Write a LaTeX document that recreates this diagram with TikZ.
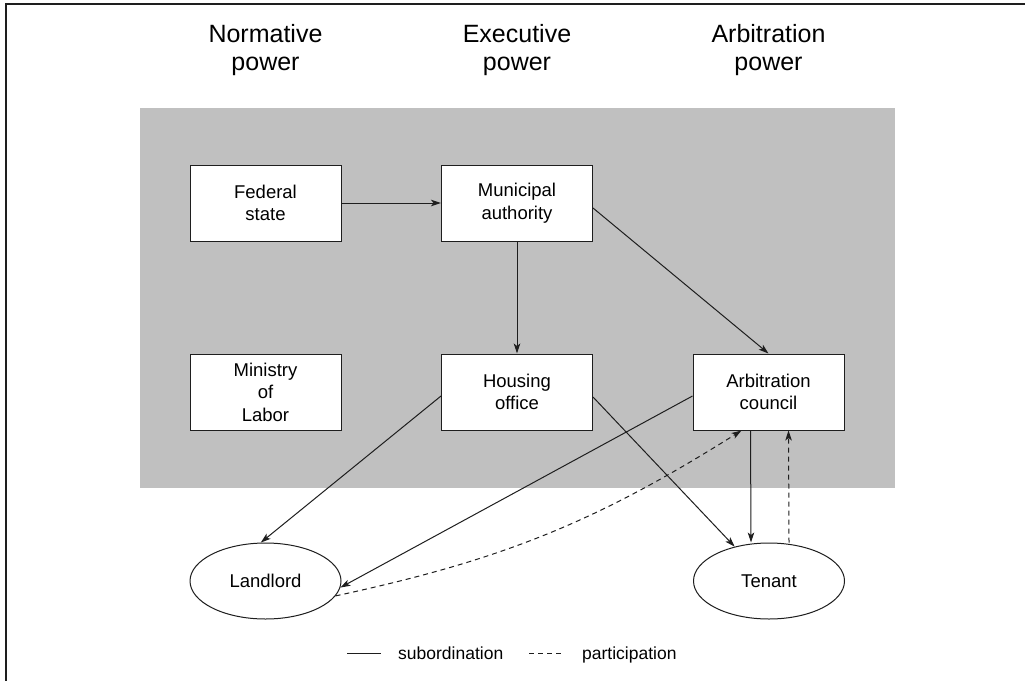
\documentclass[tikz,border=0pt]{standalone}
\usepackage{fontspec}
\setmainfont{Liberation Sans}
\usetikzlibrary{arrows.meta,shapes.geometric,calc}
\definecolor{panel}{RGB}{192,192,192}
\definecolor{ink}{RGB}{30,30,30}
\begin{document}
\begin{tikzpicture}[x=1pt,y=-1pt,
  box/.style={draw=ink, fill=white, line width=1pt, minimum width=151pt, minimum height=76pt, inner sep=0pt, align=center, font=\fontsize{18.5}{22.5}\selectfont},
  oval/.style={ellipse, draw=ink, fill=white, line width=1pt, minimum width=151pt, minimum height=76pt, inner sep=0pt, font=\fontsize{18.5}{22.5}\selectfont},
  head/.style={align=center, inner sep=0pt, font=\fontsize{25}{28}\selectfont},
  legtext/.style={inner sep=0pt, font=\fontsize{17.5}{20}\selectfont},
  sub/.style={draw=ink, line width=1pt, -{Stealth[length=10pt,width=6.5pt,inset=2.5pt]}},
  part/.style={sub, dash pattern=on 5pt off 4pt}
]
\useasboundingbox (0,0) rectangle (1025,680);
\clip (0,0) rectangle (1025,680);
\fill[white] (0,0) rectangle (1025,680);
\draw[line width=2pt, ink] (6,4) rectangle (1060,720);
\fill[panel] (140,108) rectangle (895,488);

% headers
\node[head] (hnorm) at (265.5,50) {Normative\\power};
\node[head] (hexec) at (517,50) {Executive\\power};
\node[head] (harb) at (768.5,50) {Arbitration\\power};

% boxes
\node[box] (fed) at (265.5,203) {Federal\\state};
\node[box] (mun) at (517,203) {Municipal\\authority};
\node[box] (min) at (265.5,392) {Ministry\\of\\Labor};
\node[box] (hou) at (517,392) {Housing\\office};
\node[box] (arb) at (768.5,392) {Arbitration\\council};
\node[oval] (land) at (265.5,581) {Landlord};
\node[oval] (ten) at (769,581) {Tenant};

% subordination
\draw[sub] (fed.east) -- (mun.west);
\draw[sub] (mun.south) -- (hou.north);
\draw[sub] ([yshift=-5pt]mun.east) -- (arb.north);
\draw[sub] ([yshift=-4pt]hou.west) -- (land.97);
\draw[sub] ([yshift=-5pt]hou.east) -- (ten.135);
\draw[sub] ([yshift=-4pt]arb.west) -- (land.-5);
\draw[sub] ([xshift=-18pt]arb.south) -- ([xshift=-18pt]ten.north);

% participation
\draw[part] ([xshift=20pt]ten.north) -- ([xshift=20pt]arb.south);
\draw[part] (land.-12) to[bend right=10] ([xshift=-27pt]arb.south);

% legend
\coordinate (ls1) at (347,653);
\coordinate (ls2) at (381,653);
\coordinate (lp1) at (529,653);
\coordinate (lp2) at (562,653);
\draw[ink, line width=1pt] (ls1) -- (ls2);
\draw[ink, line width=1pt, dash pattern=on 5pt off 4pt] (lp1) -- (lp2);
\node[legtext, anchor=base west] (lsub) at (398,659) {subordination};
\node[legtext, anchor=base west] (lpart) at (582,659) {participation};
\end{tikzpicture}
\end{document}
